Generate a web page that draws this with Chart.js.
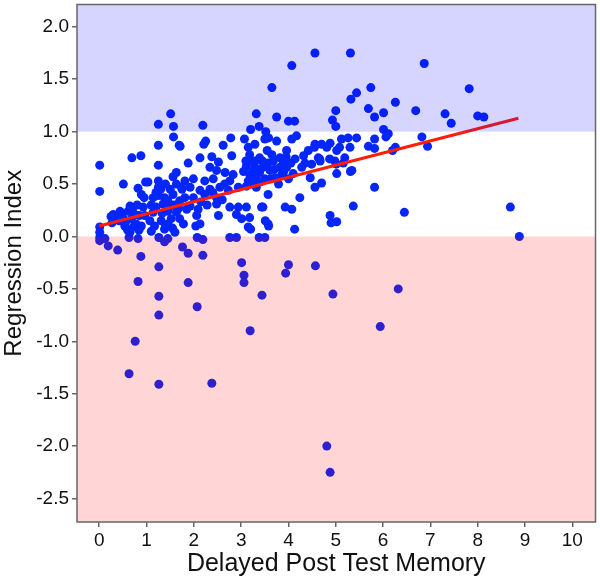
<!DOCTYPE html>
<html>
<head>
<meta charset="utf-8">
<script src="https://cdn.jsdelivr.net/npm/chart.js@4.4.1/dist/chart.umd.min.js"></script>
<style>
  html, body { margin: 0; padding: 0; background: #fff; }
</style>
</head>
<body>
<canvas id="chart" width="600" height="580"></canvas>
<script>
// Delayed post test memory (x) for each participant
const memoryScores = [
  0.01, 0.12, 0.01, 0.19, 0.39, 0.63, 0.82, 0.88, 1.26, 1.26, 1.38, 0.82, 1.26, 1.26, 0.76,
  0.63, 1.26, 2.38, 1.76, 1.88, 2.19, 1.88, 2.07, 2.07, 2.19, 2.76, 3.38, 3.01, 3.06, 3.06,
  3.44, 3.19, 4.00, 3.94, 4.57, 4.94, 5.94, 6.32, 4.81, 4.88, 8.88, 2.90, 3.50, 1.45,
  1.51, 1.25, 1.57, 1.57, 1.25, 1.69, 0.69, 0.88, 0.01, 1.25, 1.63, 1.56, 0.51, 0.98, 1.03,
  1.25, 1.63, 0.01, 0.82, 0.89, 1.25, 1.25, 0.95, 1.14, 1.38, 1.56, 1.70, 1.45, 1.35, 0.93,
  0.65, 0.61, 0.30, 0.44, 0.75, 0.96, 1.14, 1.45, 1.63, 0.51, 0.68, 1.07, 1.31, 1.52, 1.70,
  0.54, 0.72, 0.89, 1.17, 1.45, 0.01, 0.01, 0.65, 1.10, 1.38, 1.60, 0.35, 0.42, 0.47, 0.56,
  0.60, 0.78, 0.84, 0.25, 0.27,
  1.30, 1.40, 1.50, 1.48, 1.58, 1.68, 1.33, 1.40, 1.55, 1.75, 1.20, 1.10, 1.20, 0.70, 0.80,
  0.85,
  3.32, 2.19, 3.38, 3.20, 3.52, 2.78, 2.25, 2.21, 3.07, 3.50, 2.62, 3.15, 3.29, 1.71, 1.88,
  2.13, 2.38, 2.52, 2.80, 3.18, 3.22, 3.39, 3.57, 3.11, 3.29, 3.46, 2.34, 2.48, 2.66, 2.83,
  3.18, 3.39, 3.61, 1.81, 1.99, 2.23, 2.41, 2.76, 3.15, 3.32, 1.74, 1.92, 2.13, 2.34, 2.55,
  2.73, 2.94, 3.11, 3.32, 1.81, 1.99, 2.23, 2.48, 2.48, 2.76, 2.94, 3.11, 3.43, 3.57, 1.92,
  2.09, 1.85, 2.06, 2.52, 2.90, 3.01, 3.18, 3.57, 1.78, 2.04, 2.13, 3.15, 3.20, 3.46, 3.51,
  3.58,
  3.05, 3.25, 3.30, 3.45, 3.50, 3.62, 3.25, 3.40, 3.10, 3.55, 3.65, 2.15, 2.28, 2.40, 2.60,
  2.65,
  4.07, 5.44, 5.32, 3.65, 5.00, 4.93, 5.00, 3.75, 4.00, 4.13, 3.75, 4.07, 4.17, 4.56, 4.88,
  5.12, 5.26, 5.44, 3.96, 3.82, 4.42, 4.81, 5.02, 5.30, 4.32, 4.63, 5.19, 3.68, 3.89, 4.14,
  4.35, 4.67, 4.98, 3.82, 3.96, 4.28, 5.16, 5.34, 5.02, 3.86, 4.00, 3.72, 3.79, 4.46, 4.70,
  4.56, 4.24, 3.93, 4.07, 5.37, 4.88, 4.90, 5.02, 4.13, 3.58, 4.49, 4.66, 4.87, 5.01, 5.08,
  5.82, 4.55, 4.70, 3.70, 3.90, 4.05, 4.10, 3.95,
  6.87, 5.74, 6.26, 5.69, 5.82, 6.01, 6.69, 7.31, 7.44, 6.01, 6.11, 6.06, 6.82, 6.94, 5.69,
  5.82, 6.26, 6.20, 5.82, 6.45, 7.82, 8.00, 8.13, 8.69, 4.56, 5.31, 5.31
];

// Regression index (y) for the same participants
const regressionIndex = [
  -0.01, -0.02, -0.04, -0.09, -0.13, -0.01, -0.02, -0.19, -0.01, -0.29, -0.05, -0.43, -0.57, -0.75, -1.00,
  -1.31, -1.41, -1.40, -0.10, -0.16, -0.18, -0.44, -0.67, -0.01, -0.03, -0.01, -0.01, -0.25, -0.37, -0.44,
  -0.56, -0.90, -0.27, -0.35, -0.28, -0.55, -0.86, -0.50, -2.00, -2.25, 0.00, -0.01, -0.01, -0.02,
  1.17, 1.07, 1.05, 0.95, 0.87, 0.87, 0.75, 0.77, 0.68, 0.68, 0.61, 0.57, 0.50, 0.52, 0.52,
  0.53, 0.50, 0.43, 0.46, 0.40, 0.47, 0.39, 0.37, 0.37, 0.37, 0.40, 0.34, 0.34, 0.31, 0.28,
  0.29, 0.24, 0.21, 0.24, 0.21, 0.20, 0.23, 0.24, 0.23, 0.17, 0.17, 0.15, 0.15, 0.17, 0.17,
  0.10, 0.09, 0.10, 0.10, 0.12, 0.09, 0.04, 0.04, 0.05, 0.07, 0.04, 0.18, 0.15, 0.20, 0.14,
  0.06, 0.12, 0.06, 0.19, 0.13,
  0.45, 0.50, 0.45, 0.28, 0.30, 0.27, 0.22, 0.10, 0.08, 0.45, 0.28, 0.30, 0.42, 0.25, 0.30,
  0.20,
  1.17, 1.06, 1.05, 1.02, 1.00, 0.94, 0.91, 0.88, 0.93, 0.93, 0.87, 0.85, 0.88, 0.86, 0.70,
  0.75, 0.76, 0.71, 0.77, 0.78, 0.72, 0.75, 0.70, 0.67, 0.66, 0.66, 0.66, 0.63, 0.61, 0.59,
  0.59, 0.61, 0.63, 0.53, 0.55, 0.53, 0.55, 0.53, 0.53, 0.55, 0.47, 0.47, 0.44, 0.45, 0.47,
  0.44, 0.47, 0.48, 0.47, 0.37, 0.37, 0.40, 0.37, 0.31, 0.28, 0.28, 0.28, 0.28, 0.40, 0.29,
  0.26, 0.26, 0.20, 0.20, 0.21, 0.17, 0.18, 0.12, 0.12, 0.10, 0.12, 0.09, 0.07, 0.28, 0.15,
  0.10,
  0.62, 0.62, 0.72, 0.72, 0.55, 0.55, 0.50, 0.52, 0.72, 0.82, 0.78, 0.33, 0.30, 0.42, 0.35,
  0.50,
  1.63, 1.37, 1.31, 1.42, 1.20, 1.11, 1.05, 1.14, 1.10, 1.10, 0.91, 0.93, 0.96, 0.88, 0.89,
  0.93, 0.94, 0.94, 0.82, 0.75, 0.82, 0.85, 0.82, 0.85, 0.77, 0.75, 0.75, 0.72, 0.70, 0.74,
  0.70, 0.72, 0.72, 0.66, 0.66, 0.66, 0.70, 0.63, 0.60, 0.59, 0.55, 0.56, 0.50, 0.56, 0.51,
  0.47, 0.37, 0.28, 0.26, 0.29, 0.20, 0.13, 0.14, 0.07, 0.94, 0.69, 0.74, 0.74, 0.69, 0.85,
  0.93, 0.85, 0.88, 0.64, 0.62, 0.70, 0.60, 0.76,
  1.65, 1.42, 1.28, 1.22, 1.14, 1.18, 1.20, 1.17, 1.08, 1.02, 0.98, 0.95, 0.95, 0.86, 0.86,
  0.84, 0.85, 0.82, 0.47, 0.23, 1.41, 1.15, 1.14, 0.28, 1.75, 1.75, 0.62
];

// Fitted regression line end points
const fitX = [0, 8.86];
const fitY = [0.10, 1.128];

// Shaded bands: below 0 (red) and above 1 (blue)
const bandLimits = [0, 1];

const xTicks = [0, 1, 2, 3, 4, 5, 6, 7, 8, 9, 10];
const yTicks = [-2.5, -2.0, -1.5, -1.0, -0.5, 0.0, 0.5, 1.0, 1.5, 2.0];

const FONT = "'Liberation Sans', Arial, sans-serif";

const points = memoryScores.map((x, i) => ({ x: x, y: regressionIndex[i] }));
const fitPoints = fitX.map((x, i) => ({ x: x, y: fitY[i] }));

// bands are painted over the data with alpha, like the original figure
const bandPlugin = {
  id: "bands",
  afterDatasetsDraw(chart) {
    const { ctx, chartArea: a, scales } = chart;
    const y0 = scales.y.getPixelForValue(bandLimits[0]);
    const y1 = scales.y.getPixelForValue(bandLimits[1]);
    ctx.save();
    ctx.fillStyle = "rgba(0, 0, 255, 0.165)";
    ctx.fillRect(a.left, a.top, a.right - a.left, y1 - a.top);
    ctx.fillStyle = "rgba(255, 0, 0, 0.165)";
    ctx.fillRect(a.left, y0, a.right - a.left, a.bottom - y0);
    ctx.restore();
  },
  afterDraw(chart) {
    const { ctx, chartArea: a } = chart;
    ctx.save();
    ctx.strokeStyle = "#666666";
    ctx.lineWidth = 1.5;
    ctx.strokeRect(a.left, a.top, a.right - a.left, a.bottom - a.top);
    ctx.restore();
  }
};

new Chart(document.getElementById("chart"), {
  type: "scatter",
  data: {
    datasets: [
      {
        type: "line",
        data: fitPoints,
        borderColor: "#ff1e0a",
        borderWidth: 3,
        pointRadius: 0,
        fill: false,
        order: 0
      },
      {
        data: points,
        backgroundColor: "#0526fa",
        borderWidth: 0,
        pointRadius: 4.5,
        order: 1
      }
    ]
  },
  options: {
    responsive: false,
    animation: false,
    layout: { padding: { top: 3, right: 3, left: 0, bottom: 0 } },
    plugins: {
      legend: { display: false },
      tooltip: { enabled: false }
    },
    scales: {
      x: {
        type: "linear",
        min: -0.47,
        max: 10.49,
        afterBuildTicks: (scale) => {
          scale.ticks = xTicks.map((v) => ({ value: v }));
        },
        afterFit: (scale) => {
          scale.height = 58;
          scale.paddingLeft = 0;
          scale.paddingRight = 0;
        },
        ticks: {
          color: "#111",
          font: { family: FONT, size: 19 },
          padding: 2,
          maxRotation: 0,
          callback: (v) => String(v)
        },
        grid: {
          display: true,
          drawOnChartArea: false,
          drawTicks: true,
          tickLength: 5,
          color: "#666666",
          lineWidth: 1.5
        },
        border: { display: false },
        title: {
          display: true,
          text: "Delayed Post Test Memory",
          color: "#111",
          font: { family: FONT, size: 25 },
          padding: { top: 0, bottom: 1 }
        }
      },
      y: {
        type: "linear",
        min: -2.724,
        max: 2.213,
        afterBuildTicks: (scale) => {
          scale.ticks = yTicks.map((v) => ({ value: v }));
        },
        afterFit: (scale) => {
          scale.width = 77;
          scale.paddingTop = 0;
          scale.paddingBottom = 0;
        },
        ticks: {
          color: "#111",
          font: { family: FONT, size: 19 },
          padding: 3,
          callback: (v) => v.toFixed(1)
        },
        grid: {
          display: true,
          drawOnChartArea: false,
          drawTicks: true,
          tickLength: 5,
          color: "#666666",
          lineWidth: 1.5
        },
        border: { display: false },
        title: {
          display: true,
          text: "Regression Index",
          color: "#111",
          font: { family: FONT, size: 24 },
          padding: { top: 0, bottom: 0 }
        }
      }
    }
  },
  plugins: [bandPlugin]
});
</script>
</body>
</html>
